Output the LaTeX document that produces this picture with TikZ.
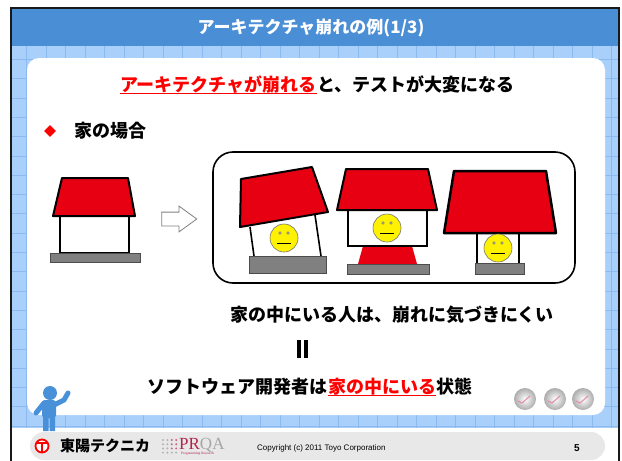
\documentclass[tikz,border=0pt]{standalone}
\usepackage{fontspec}
\setmainfont{Liberation Sans}
\newfontfamily\jp{Noto Sans CJK JP}
\newfontfamily\serif{Liberation Serif}
\usepackage{xcolor}
\usepackage{tikz}
\usetikzlibrary{shapes.geometric,shapes.arrows,positioning}

\definecolor{titleblue}{RGB}{74,142,214}
\definecolor{gridblue}{RGB}{168,208,250}
\definecolor{gridline}{RGB}{140,186,238}
\definecolor{roofred}{RGB}{230,0,18}
\definecolor{basegray}{RGB}{128,128,128}
\definecolor{footgray}{RGB}{232,232,232}
\definecolor{manblue}{RGB}{72,144,216}
\definecolor{prqared}{RGB}{176,36,76}

\tikzset{
  smiley/.pic={
    \draw[fill=yellow,draw=black!55,line width=0.6] (0,0) circle (14);
    \draw[fill=gray!50,draw=black!60,line width=0.4] (-4,-5) circle (1.4) (4,-5) circle (1.4);
    \draw[line width=1] (-7,5) -- (7,5);
  }
}

\begin{document}
\begin{tikzpicture}[x=1pt,y=-1pt,>=stealth,
  txt/.style={font=\jp\bfseries\fontsize{18}{20}\selectfont,inner sep=0pt},
  roof/.style={fill=roofred,draw=black,line width=2pt,line join=round},
  wall/.style={fill=white,draw=black,line width=1.6pt},
  base/.style={fill=basegray,draw=black!70,line width=1pt}]
\useasboundingbox (0,0) rectangle (622,461);

% background grid and panel
\fill[gridblue] (11,46) rectangle (619,428);
\foreach \i in {0,...,30}
  \draw[gridline,line width=0.8] ({26.5+19.5*\i},46) -- ++(0,382);
\foreach \j in {0,...,19}
  \draw[gridline,line width=0.8] (11,{59.4+19.3*\j}) -- (619,{59.4+19.3*\j});
\fill[white,rounded corners=12] (27,58) rectangle (605,415);
\fill[titleblue] (11,9) rectangle (619,46);
\fill[white] (11,428) rectangle (619,461);
\fill[footgray,rounded corners=14] (30,432) rectangle (605,460);
\draw[line width=2.5pt,black!90] (11,461) -- (11,8) -- (619,8) -- (619,461);

\node[font=\jp\bfseries\fontsize{17}{20}\selectfont,white] (title) at (311,28) {アーキテクチャ崩れの例(1/3)};

% headline
\node[txt,red,anchor=base east] (arch) at (317,91) {アーキテクチャが崩れる};
\node[txt,anchor=base west] (test) at (arch.base east) {と、テストが大変になる};
\draw[red,line width=1.5] ([yshift=-2.5pt]arch.base west) -- ([yshift=-2.5pt]arch.base east);

\node[diamond,fill=red,minimum size=12,inner sep=0] (dia) at (50,131) {};
\node[txt,anchor=west] (case) at (74,131) {家の場合};

% plain house
\draw[wall] (60,216) rectangle (129,253);
\draw[base] (50,253) rectangle (140,262);
\draw[roof] (62,178) -- (128,178) -- (135,216) -- (53,216) -- cycle;

\node[single arrow,draw=gray,fill=white,line width=0.8,minimum height=35,
  text height=6.5pt,text depth=6.5pt,text width=0pt,inner sep=0,
  single arrow head extend=6,single arrow tip angle=72] (arr) at (174.5,219) {};

\draw[line width=1.6pt,rounded corners=20] (213,152) rectangle (575,283);

% tilted house
\fill[white] (250,227) -- (254,256) -- (321,256) -- (315,215) -- cycle;
\draw[line width=1.6pt] (250,227) -- (254,256) (315,215) -- (321,256);
\draw[base] (249,256) rectangle (326,273);
\draw[roof] (241,179) -- (312,167) -- (328,212) -- (240,227) -- cycle;
\pic at (284,238) {smiley};

% house on a red foot
\fill[roofred] (363,246) -- (412,246) -- (417,264) -- (358,264) -- cycle;
\draw[base] (347,264) rectangle (429,274);
\draw[wall] (348,210) rectangle (427,246);
\draw[roof] (346,169) -- (428,169) -- (437,210) -- (337,210) -- cycle;
\pic at (387,228) {smiley};

% house with a big roof
\fill[white] (477,233) rectangle (519,263);
\draw[line width=1.6pt] (477,233) -- (477,263) (519,233) -- (519,263);
\draw[base] (475,263) rectangle (524,274);
\draw[roof,line width=2.5pt] (454,171) -- (546,171) -- (556,233) -- (444,233) -- cycle;
\pic at (498,248) {smiley};

% conclusion
\node[txt,anchor=base] (inside) at (392,321) {家の中にいる人は、崩れに気づきにくい};
\draw[line width=4] (299,340) -- (299,358) (306,340) -- (306,358);
\node[txt,anchor=base east] (dev) at (328,393) {ソフトウェア開発者は};
\node[txt,red,anchor=base west] (home) at (dev.base east) {家の中にいる};
\node[txt,anchor=base west] (state) at (home.base east) {状態};
\draw[red,line width=1.5] ([yshift=-2.5pt]home.base west) -- ([yshift=-2.5pt]home.base east);

% balls
\foreach \cx in {525,555,583} {
  \shade[inner color=white,outer color=gray!65] (\cx,399) circle (11);
  \draw[purple!45,line width=1,line cap=round] (\cx-7,401) -- (\cx-3,403) -- (\cx+5,396);
}

% little man
\fill[manblue] (50,393) circle (7);
\fill[manblue,rounded corners=3] (42,400) rectangle (56,418);
\fill[manblue] (43,415) rectangle (48.5,431) (49.5,415) rectangle (55,431);
\draw[manblue,line width=5,line cap=round] (44,403) -- (36,413);
\draw[manblue,line width=5,line cap=round,line join=round] (54,405) -- (64,400) -- (68,393);

% footer
\fill[white] (42,446) circle (7);
\draw[red,line width=1.8] (42,446) circle (6.5);
\draw[red,line width=1.8] (36,443) -- (48,443) (42,443) -- (42,452);
\node[font=\jp\bfseries\fontsize{15}{15}\selectfont,inner sep=0] (toyo) at (105,446) {東陽テクニカ};
\foreach \i in {0,...,3}
  \foreach \j in {0,...,3} {
    \ifnum\i>1 \ifnum\j<3 \def\dc{prqared!70}\else\def\dc{gray!60}\fi \else\def\dc{gray!60}\fi
    \fill[\dc] ({163+4.4*\i},{440+4.2*\j}) circle (1.1);
  }
\node[font=\serif\fontsize{17}{17}\selectfont,inner sep=0,anchor=base west] (pr) at (179,449) {\textcolor{prqared}{PR}\textcolor{gray!70}{QA}};
\node[font=\serif\fontsize{3.5}{4}\selectfont,prqared,inner sep=0,anchor=north west] (pres) at (181,452) {Programming Research};
\node[font=\fontsize{8}{10}\selectfont,inner sep=0,anchor=west] (copy) at (257,448) {Copyright (c) 2011 Toyo Corporation};
\node[font=\bfseries\fontsize{10}{10}\selectfont,inner sep=0] (page) at (577,448) {5};
\end{tikzpicture}
\end{document}
